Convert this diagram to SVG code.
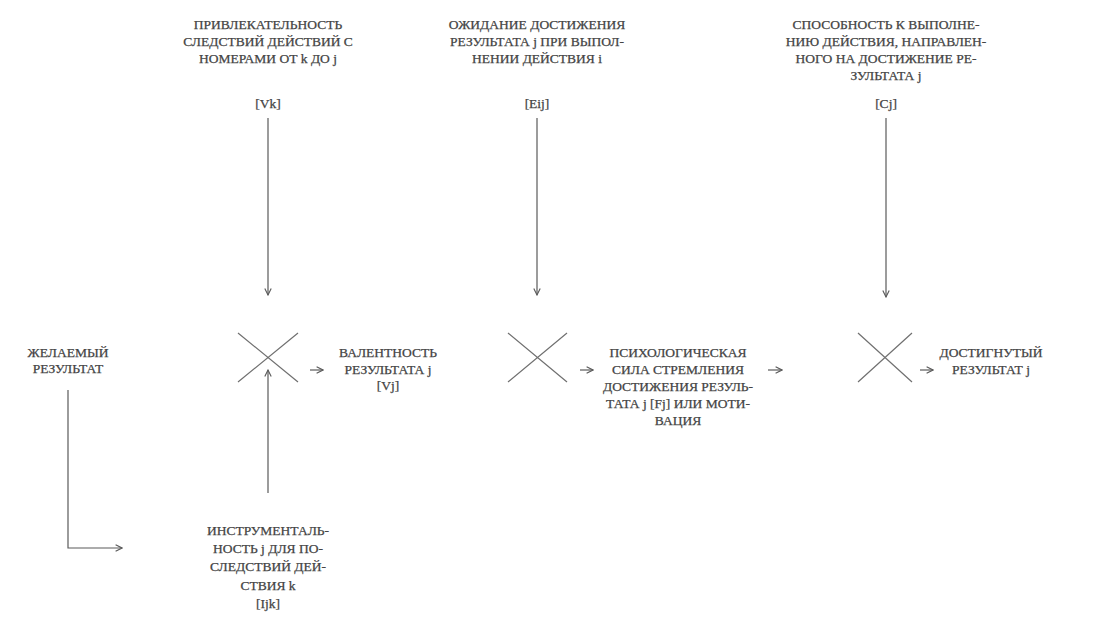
<svg xmlns="http://www.w3.org/2000/svg" width="1096" height="630" viewBox="0 0 1096 630">
<defs>
<style>
text{font-family:"Liberation Serif","DejaVu Serif",serif;font-size:13.5px;fill:#444444;stroke:#444444;stroke-width:0.25;text-anchor:middle;}
.ln{stroke:#5a5a5a;stroke-width:1.2;fill:none;}
.x{stroke:#707070;stroke-width:1.2;fill:none;}
</style>
<marker id="ah" viewBox="0 0 10 10" refX="9" refY="5" markerWidth="8" markerHeight="8" orient="auto" markerUnits="userSpaceOnUse">
<path d="M1,1 L9,5 L1,9" fill="none" stroke="#5a5a5a" stroke-width="1.4"/>
</marker>
</defs>
<rect width="1096" height="630" fill="#ffffff"/>

<g id="attract">
<text x="268" y="29">ПРИВЛЕКАТЕЛЬНОСТЬ</text>
<text x="268" y="46">СЛЕДСТВИЙ ДЕЙСТВИЙ С</text>
<text x="268" y="63">НОМЕРАМИ ОТ k ДО j</text>
<text x="268" y="108">[Vk]</text>
</g>
<g id="expect">
<text x="537" y="29">ОЖИДАНИЕ ДОСТИЖЕНИЯ</text>
<text x="537" y="46">РЕЗУЛЬТАТА j ПРИ ВЫПОЛ-</text>
<text x="537" y="63">НЕНИИ ДЕЙСТВИЯ i</text>
<text x="537" y="108">[Eij]</text>
</g>
<g id="ability">
<text x="886" y="29">СПОСОБНОСТЬ К ВЫПОЛНЕ-</text>
<text x="886" y="46">НИЮ ДЕЙСТВИЯ, НАПРАВЛЕН-</text>
<text x="886" y="63">НОГО НА ДОСТИЖЕНИЕ РЕ-</text>
<text x="886" y="80">ЗУЛЬТАТА j</text>
<text x="886" y="108">[Cj]</text>
</g>
<g id="desired">
<text x="68" y="357">ЖЕЛАЕМЫЙ</text>
<text x="68" y="373">РЕЗУЛЬТАТ</text>
</g>
<g id="valence">
<text x="388" y="357">ВАЛЕНТНОСТЬ</text>
<text x="388" y="374">РЕЗУЛЬТАТА j</text>
<text x="388" y="390">[Vj]</text>
</g>
<g id="force">
<text x="678" y="357">ПСИХОЛОГИЧЕСКАЯ</text>
<text x="678" y="374">СИЛА СТРЕМЛЕНИЯ</text>
<text x="678" y="391">ДОСТИЖЕНИЯ РЕЗУЛЬ-</text>
<text x="678" y="408">ТАТА j [Fj] ИЛИ МОТИ-</text>
<text x="678" y="425">ВАЦИЯ</text>
</g>
<g id="achieved">
<text x="991" y="357">ДОСТИГНУТЫЙ</text>
<text x="991" y="374">РЕЗУЛЬТАТ j</text>
</g>
<g id="instrumentality">
<text x="268" y="535">ИНСТРУМЕНТАЛЬ-</text>
<text x="268" y="553">НОСТЬ j ДЛЯ ПО-</text>
<text x="268" y="571">СЛЕДСТВИЙ ДЕЙ-</text>
<text x="268" y="590">СТВИЯ k</text>
<text x="268" y="608">[Ijk]</text>
</g>
<g id="mult1"><path class="x" d="M238,333 L298,382 M298,333 L238,382"/></g>
<g id="mult2"><path class="x" d="M508,333 L567,382 M567,333 L508,382"/></g>
<g id="mult3"><path class="x" d="M858,333 L912,382 M912,333 L858,382"/></g>

<g id="connectors">
<line class="ln" x1="268" y1="118" x2="268" y2="295" marker-end="url(#ah)"/>
<line class="ln" x1="537" y1="118" x2="537" y2="295" marker-end="url(#ah)"/>
<line class="ln" x1="886" y1="118" x2="886" y2="297" marker-end="url(#ah)"/>
<line class="ln" x1="268" y1="493" x2="268" y2="370" marker-end="url(#ah)"/>
<polyline class="ln" points="68,390 68,548 122,548" marker-end="url(#ah)"/>
<line class="ln" x1="310" y1="370" x2="323" y2="370" marker-end="url(#ah)"/>
<line class="ln" x1="580" y1="370" x2="593" y2="370" marker-end="url(#ah)"/>
<line class="ln" x1="768" y1="370" x2="782" y2="370" marker-end="url(#ah)"/>
<line class="ln" x1="920" y1="370" x2="933" y2="370" marker-end="url(#ah)"/>
</g>
</svg>
